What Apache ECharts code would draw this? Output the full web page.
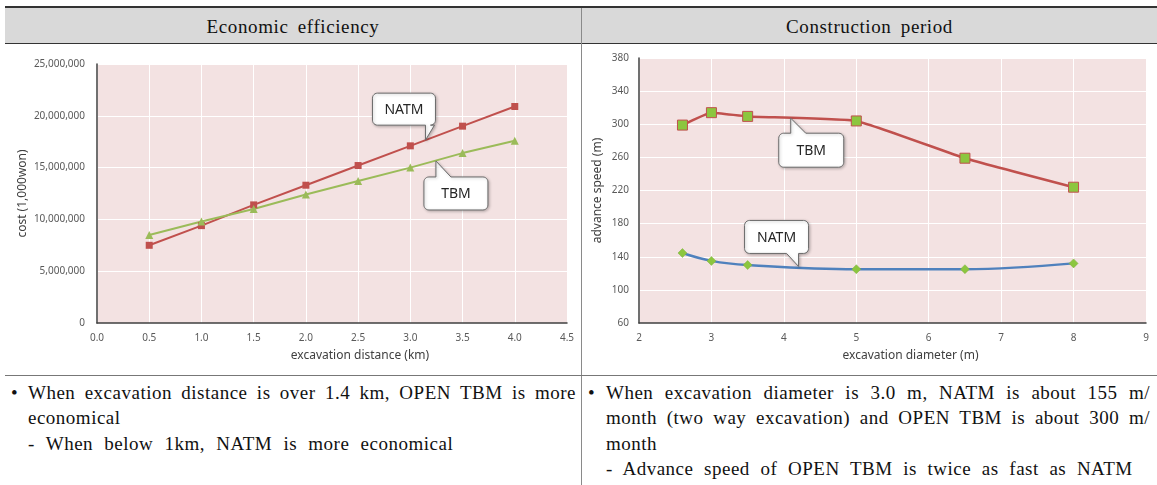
<!DOCTYPE html>
<html><head><meta charset="utf-8">
<script src="https://cdn.jsdelivr.net/npm/echarts@6.0.0/dist/echarts.min.js"></script>
<style>
html,body{margin:0;padding:0;background:#fff;width:1157px;height:485px;overflow:hidden;}
body{position:relative;font-family:"Liberation Serif","Times New Roman",serif;color:#111;}
.abs{position:absolute;}
.hdr{font-size:19px;text-align:center;letter-spacing:0.6px;word-spacing:4px;}
.ln{position:absolute;font-size:19px;line-height:25px;white-space:nowrap;letter-spacing:0.5px;word-spacing:6px;}
.just{text-align:justify;text-align-last:justify;white-space:normal;word-spacing:0;}
</style></head><body>
<div class="abs" style="left:5px;top:6px;width:1152px;height:2px;background:#333"></div>
<div class="abs" style="left:5px;top:8px;width:1152px;height:35px;background:#d9d9d9"></div>
<div class="abs" style="left:5px;top:43px;width:1152px;height:1px;background:#333"></div>
<div class="abs" style="left:581px;top:8px;width:1px;height:477px;background:#8a8a8a"></div>
<div class="abs" style="left:5px;top:375px;width:1152px;height:1px;background:#777"></div>
<div class="abs hdr" style="left:5px;width:576px;top:8px;height:35px;line-height:38px;">Economic efficiency</div>
<div class="abs hdr" style="left:582px;width:575px;top:8px;height:35px;line-height:38px;">Construction period</div>

<div id="chartL" class="abs" style="left:0px;top:45px;width:580px;height:329px;"></div>
<div id="chartR" class="abs" style="left:582px;top:45px;width:575px;height:329px;"></div>

<div class="ln" style="left:11px;top:380px;">•</div>
<div class="ln just" style="left:28px;top:380px;width:548px;">When excavation distance is over 1.4 km, OPEN TBM is more</div>
<div class="ln" style="left:28px;top:405px;">economical</div>
<div class="ln" style="left:28px;top:431px;">- When below 1km, NATM is more economical</div>

<div class="ln" style="left:588px;top:380px;">•</div>
<div class="ln just" style="left:606px;top:380px;width:544px;">When excavation diameter is 3.0 m, NATM is about 155 m/</div>
<div class="ln just" style="left:606px;top:405px;width:544px;">month (two way excavation) and OPEN TBM is about 300 m/</div>
<div class="ln" style="left:606px;top:431px;">month</div>
<div class="ln" style="left:606px;top:456px;word-spacing:5.4px;">- Advance speed of OPEN TBM is twice as fast as NATM</div>

<script>
// ---- data ----
const distanceKm = [0.5, 1.0, 1.5, 2.0, 2.5, 3.0, 3.5, 4.0];
const costNATM = [7500000, 9400000, 11400000, 13300000, 15200000, 17100000, 19000000, 20900000];
const costTBM  = [8500000, 9800000, 11000000, 12400000, 13700000, 15000000, 16400000, 17600000];
const diameterM = [2.6, 3, 3.5, 5, 6.5, 8];
const speedTBM  = [299, 314, 309.5, 304, 259, 224];
const speedNATM = [144.5, 135, 130, 125, 125, 132];

const FONT = '"Noto Sans", "DejaVu Sans", sans-serif';
const PINK = '#f3e2e2';
const RED = '#c0504d', GREEN = '#9bbb59', BLUE = '#4f81bd', LIME = '#8cc63f';

function zip(xs, ys){ return xs.map((x,i)=>[x, ys[i]]); }

function baseAxis(extra){
  return Object.assign({
    type:'value',
    axisLine:{show:true, lineStyle:{color:'#404040', width:1.5}},
    axisTick:{show:false},
    axisLabel:{color:'#595959', fontSize:10, fontFamily:FONT, showMinLabel:true, showMaxLabel:true},
    splitLine:{show:true, lineStyle:{color:'#ffffff', width:1}},
    nameTextStyle:{color:'#404040', fontSize:12, fontFamily:FONT},
    nameLocation:'middle',
    nameMoveOverlap:false
  }, extra);
}

const chartL = echarts.init(document.getElementById('chartL'), null, {renderer:'canvas'});
chartL.setOption({
  animation:false,
  grid:{left:97, top:19, width:470, height:259, show:true, backgroundColor:PINK, borderWidth:0, containLabel:false, outerBoundsMode:'none'},
  xAxis: baseAxis({min:0, max:4.5, interval:0.5, name:'excavation distance (km)', nameGap:27,
    nameTextStyle:{color:'#404040', fontSize:12, fontFamily:FONT, padding:[0,0,0,56]},
    axisLabel:{color:'#595959', fontSize:10, fontFamily:FONT, margin:10, formatter:v=>v.toFixed(1)}}),
  yAxis: baseAxis({min:0, max:25000000, interval:5000000, name:'cost (1,000won)', nameGap:68,
    axisLabel:{color:'#595959', fontSize:10, fontFamily:FONT, margin:12, formatter:v=>v.toLocaleString('en-US')}}),
  series:[
    {type:'line', data:zip(distanceKm, costNATM), symbol:'rect', symbolSize:7,
     lineStyle:{color:RED, width:2}, itemStyle:{color:RED}},
    {type:'line', data:zip(distanceKm, costTBM), symbol:'triangle', symbolSize:8,
     lineStyle:{color:GREEN, width:2}, itemStyle:{color:GREEN}}
  ]
});

const chartR = echarts.init(document.getElementById('chartR'), null, {renderer:'canvas'});
chartR.setOption({
  animation:false,
  grid:{left:57, top:13, width:507, height:265, show:true, backgroundColor:PINK, borderWidth:0, containLabel:false, outerBoundsMode:'none'},
  xAxis: baseAxis({min:2, max:9, interval:1, name:'excavation diameter (m)', nameGap:27,
    nameTextStyle:{color:'#404040', fontSize:12, fontFamily:FONT, padding:[0,0,0,36]},
    axisLabel:{color:'#595959', fontSize:10, fontFamily:FONT, margin:10}}),
  yAxis: baseAxis({min:60, max:380, interval:40, name:'advance speed (m)', nameGap:35,
    axisLabel:{color:'#595959', fontSize:10, fontFamily:FONT, margin:10}}),
  series:[
    {type:'line', data:zip(diameterM, speedTBM), symbol:'rect', symbolSize:10, smooth:0.12,
     lineStyle:{color:RED, width:2.5}, itemStyle:{color:LIME, borderColor:RED, borderWidth:1}},
    {type:'line', data:zip(diameterM, speedNATM), symbol:'diamond', symbolSize:9, smooth:0.4,
     lineStyle:{color:BLUE, width:2.5}, itemStyle:{color:LIME, borderColor:'#7fb040', borderWidth:0.5}}
  ]
});

// ---- callout annotations (anchored on data points of the lines) ----
function calloutPoints(x,y,w,h,r,side,b1,b2,tx,ty){
  const pts=[];
  const arc=(cx,cy,a0,a1)=>{for(let i=0;i<=6;i++){const a=a0+(a1-a0)*i/6;pts.push([cx+r*Math.cos(a),cy+r*Math.sin(a)]);}};
  arc(x+r,y+r,Math.PI,1.5*Math.PI);
  if(side==='top'){pts.push([b1,y],[tx,ty],[b2,y]);}
  arc(x+w-r,y+r,1.5*Math.PI,2*Math.PI);
  arc(x+w-r,y+h-r,0,0.5*Math.PI);
  if(side==='bottom'){pts.push([b2,y+h],[tx,ty],[b1,y+h]);}
  arc(x+r,y+h-r,0.5*Math.PI,Math.PI);
  return pts;
}
function addCallouts(chart, list){
  const els=[];
  list.forEach(c=>{
    const p = chart.convertToPixel({gridIndex:0}, c.tip);
    const x=p[0]+c.dx, y=p[1]+c.dy;
    const b1=p[0]+c.base[0], b2=p[0]+c.base[1];
    els.push({type:'polygon', z:100, shape:{points:calloutPoints(x,y,c.w,c.h,5,c.side,b1,b2,p[0],p[1])},
      style:{fill:'#ffffff', stroke:'#6b6b6b', lineWidth:1, shadowBlur:3, shadowColor:'rgba(0,0,0,0.25)', shadowOffsetX:1, shadowOffsetY:1}});
    els.push({type:'text', z:101, x:x+c.w/2, y:y+c.h/2+1,
      style:{text:c.text, fill:'#262626', font:'14px '+FONT, align:'center', verticalAlign:'middle'}});
  });
  chart.setOption({graphic:els});
}
addCallouts(chartL, [
  {text:'NATM', tip:[3.145, 17650000], dx:-53, dy:-47, w:63, h:32, side:'bottom', base:[0,9]},
  {text:'TBM',  tip:[3.245, 15640000], dx:-12, dy:16, w:64, h:33, side:'top', base:[0,15]}
]);
addCallouts(chartR, [
  {text:'TBM',  tip:[4.095, 307.3], dx:-12, dy:15, w:65, h:34, side:'top', base:[0,15]},
  {text:'NATM', tip:[4.203, 128.3], dx:-54, dy:-46, w:64, h:33, side:'bottom', base:[-12,0]}
]);
</script>
</body></html>
